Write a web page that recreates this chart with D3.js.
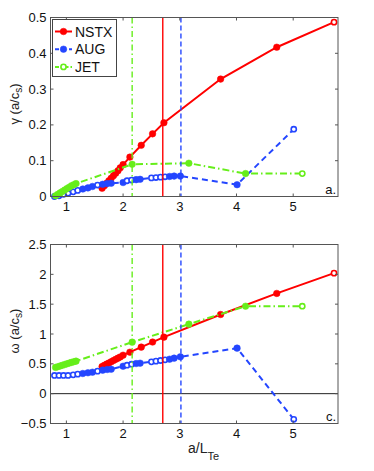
<!DOCTYPE html>
<html><head><meta charset="utf-8">
<script src="https://cdn.jsdelivr.net/npm/d3@7"></script>
<style>body{margin:0;background:#fff}svg{display:block;font-family:"Liberation Sans",Arial,sans-serif}</style>
</head><body><svg id="c" width="374" height="471"></svg>
<script>
const seriesNames = ["NSTX","AUG","JET"];
const nstxX = [1.63,1.67,1.71,1.75,1.79,1.83,1.87,1.91,1.95,2.0,2.12,2.32,2.52,2.72,3.72,4.71,5.72];
const nstxGamma = [0.023,0.030,0.037,0.044,0.051,0.058,0.065,0.072,0.080,0.089,0.110,0.143,0.175,0.206,0.328,0.417,0.487];
const nstxOmega = [0.455,0.475,0.495,0.515,0.535,0.555,0.575,0.595,0.615,0.645,0.695,0.78,0.865,0.947,1.327,1.68,2.02];
const nstxOpen = [0,0,0,0,0,0,0,0,0,0,0,0,0,0,0,0,1];
const augX = [0.79,0.87,0.95,1.03,1.12,1.2,1.29,1.38,1.46,1.55,1.64,1.72,1.79,2.0,2.07,2.15,2.23,2.3,2.5,2.58,2.66,2.74,2.82,2.9,3.01,4.01,5.01];
const augGamma = [0.0,0.002,0.006,0.009,0.013,0.017,0.021,0.024,0.028,0.032,0.034,0.036,0.037,0.039,0.044,0.046,0.047,0.048,0.052,0.053,0.054,0.055,0.056,0.057,0.057,0.033,0.188];
const augOmega = [0.305,0.305,0.305,0.305,0.315,0.327,0.338,0.35,0.36,0.377,0.394,0.405,0.41,0.46,0.477,0.494,0.505,0.511,0.533,0.545,0.556,0.567,0.578,0.595,0.617,0.763,-0.43];
const augOpen = [1,1,1,1,1,1,0,0,0,1,0,0,0,0,1,1,0,0,1,1,1,1,0,0,0,0,1];
const jetX = [0.81,0.85,0.89,0.93,0.97,1.01,1.05,1.09,1.13,1.17,2.16,3.16,4.16,5.16];
const jetGamma = [0.002,0.006,0.010,0.014,0.018,0.022,0.026,0.030,0.033,0.036,0.090,0.093,0.064,0.064];
const jetOmega = [0.44,0.452,0.464,0.476,0.488,0.500,0.512,0.524,0.535,0.545,0.863,1.165,1.466,1.466];
const jetOpen = [0,0,0,0,0,0,0,0,0,0,0,0,0,1];
const thresholds = [2.7, 3.02, 2.16]; // NSTX, AUG, JET vertical markers
const xTicks = [1,2,3,4,5];
const gammaTicks = [0,0.1,0.2,0.3,0.4,0.5];
const omegaTicks = [-0.5,0,0.5,1,1.5,2,2.5];

const colors = {NSTX:"#ff0000", AUG:"#2446ff", JET:"#66ee1a"};
const dashes = {NSTX:null, AUG:"6,4", JET:"7,3,1.5,3"};
const svg = d3.select("#c");
const L = 50.5, R = 338;
const x = d3.scaleLinear().domain([0.72,5.79]).range([L,R]);

const series = [
  {name:"NSTX", x:nstxX, g:nstxGamma, w:nstxOmega, open:nstxOpen},
  {name:"AUG", x:augX, g:augGamma, w:augOmega, open:augOpen},
  {name:"JET", x:jetX, g:jetGamma, w:jetOmega, open:jetOpen}
];

function panel(top, bottom, domain, ticks, key, ylab, corner, showLegend, zeroLine){
  const y = d3.scaleLinear().domain(domain).range([bottom, top]);
  const g = svg.append("g");
  const clipId = "clip"+key;
  svg.append("clipPath").attr("id",clipId).append("rect").attr("x",L-4).attr("y",top).attr("width",R-L+8).attr("height",bottom-top+4);
  const pg = g.append("g").attr("clip-path",`url(#${clipId})`);
  if(zeroLine){
    pg.append("line").attr("x1",L).attr("x2",R).attr("y1",y(0)).attr("y2",y(0)).attr("stroke","#222").attr("stroke-width",1);
  }
  series.forEach(s=>{
    const pts = s.x.map((v,i)=>[v, s[key][i], s.open[i]]);
    pg.append("path").datum(pts)
      .attr("d", d3.line().x(d=>x(d[0])).y(d=>y(d[1])))
      .attr("fill","none").attr("stroke",colors[s.name]).attr("stroke-width",2)
      .attr("stroke-dasharray",dashes[s.name]);
    pg.selectAll(null).data(pts).enter().append("circle")
      .attr("cx",d=>x(d[0])).attr("cy",d=>y(d[1])).attr("r",d=>d[2]?2.6:3.3)
      .attr("fill",d=>d[2]?"#fff":colors[s.name])
      .attr("stroke",colors[s.name]).attr("stroke-width",d=>d[2]?1.6:0.5);
  });
  series.forEach((s,i)=>{
    pg.append("line").attr("x1",x(thresholds[i])).attr("x2",x(thresholds[i]))
      .attr("y1",top).attr("y2",bottom).attr("stroke",colors[s.name]).attr("stroke-width",1.4)
      .attr("stroke-dasharray", s.name==="AUG"?"5,3": s.name==="JET"?"6,3,1.5,3":null);
  });
  // frame
  const ax = g.append("g").attr("stroke","#555").attr("stroke-width",1).attr("fill","none");
  ax.append("rect").attr("x",L).attr("y",top).attr("width",R-L).attr("height",bottom-top);
  xTicks.forEach(t=>{
    ax.append("line").attr("x1",x(t)).attr("x2",x(t)).attr("y1",bottom).attr("y2",bottom-3);
    ax.append("line").attr("x1",x(t)).attr("x2",x(t)).attr("y1",top).attr("y2",top+3);
  });
  ticks.forEach(t=>{
    ax.append("line").attr("x1",L).attr("x2",L+3).attr("y1",y(t)).attr("y2",y(t));
    ax.append("line").attr("x1",R).attr("x2",R-3).attr("y1",y(t)).attr("y2",y(t));
  });
  g.selectAll(null).data(xTicks).enter().append("text")
    .attr("x",d=>x(d)).attr("y",bottom+14).attr("text-anchor","middle")
    .attr("font-size",13).attr("fill","#111").text(d=>d);
  g.selectAll(null).data(ticks).enter().append("text")
    .attr("x",L-4).attr("y",d=>y(d)+4.5).attr("text-anchor","end")
    .attr("font-size",13).attr("fill","#111").text(d=>d<0?"\u2212"+Math.abs(d):d);
  // y label
  const cy = (top+bottom)/2 - 3;
  const yl = g.append("text").attr("transform",`translate(19,${cy}) rotate(-90)`)
    .attr("text-anchor","middle").attr("font-size",13).attr("fill","#222");
  yl.append("tspan").text(ylab+" (a/c");
  yl.append("tspan").attr("font-size",10).attr("dy",3).text("s");
  yl.append("tspan").attr("dy",-3).text(")");
  g.append("text").attr("x",R-2).attr("y",bottom-3).attr("text-anchor","end")
    .attr("font-size",13).attr("fill","#111").text(corner);
  if(showLegend){
    const lg = g.append("g");
    lg.append("rect").attr("x",52.5).attr("y",19.5).attr("width",64).attr("height",57)
      .attr("fill","#fff").attr("stroke","#444").attr("stroke-width",1);
    series.forEach((s,i)=>{
      const yy = 31.5 + i*17.7;
      lg.append("line").attr("x1",55).attr("x2",72).attr("y1",yy).attr("y2",yy)
        .attr("stroke",colors[s.name]).attr("stroke-width",2).attr("stroke-dasharray", s.name==="AUG"?"4,3": s.name==="JET"?"4,2,1.5,2":null);
      const open = s.name==="JET";
      lg.append("circle").attr("cx",63.5).attr("cy",yy).attr("r",open?2.6:3.3)
        .attr("fill",open?"#fff":colors[s.name]).attr("stroke",colors[s.name]).attr("stroke-width",open?1.6:0.5);
      lg.append("text").attr("x",75).attr("y",yy+5).attr("font-size",14).attr("fill","#111").text(s.name);
    });
  }
  return y;
}

panel(17.5, 196.5, [0,0.5], gammaTicks, "g", "\u03b3", "a.", true, false);
panel(244.5, 423.5, [-0.5,2.5], omegaTicks, "w", "\u03c9", "c.", false, true);

const xl = svg.append("text").attr("x",188).attr("y",453).attr("font-size",14).attr("fill","#222");
xl.append("tspan").text("a/L");
xl.append("tspan").attr("font-size",11).attr("dy",7).text("Te");
</script></body></html>
